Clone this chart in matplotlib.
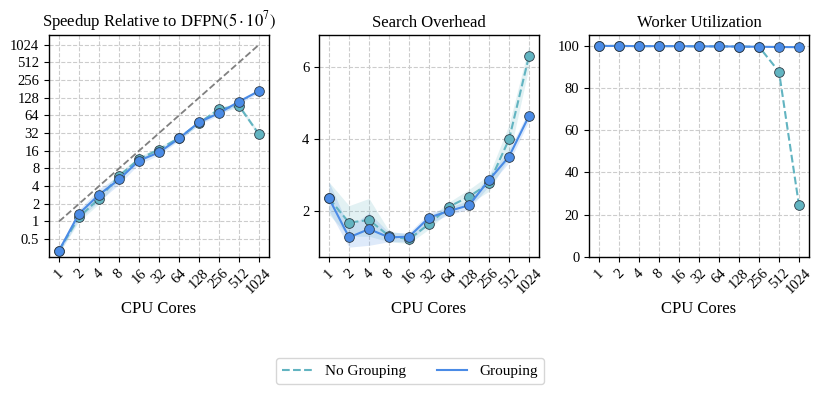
import matplotlib
matplotlib.use("Agg")
import matplotlib.pyplot as plt
from matplotlib.lines import Line2D
import numpy as np

plt.rcParams.update({
    "font.family": "Liberation Serif",
    "mathtext.fontset": "stix",
    "font.size": 10,
    "axes.linewidth": 1.0,
})

TEAL = "#62b4c1"
BLUE = "#4a8be6"
EDGE = "#2f3b45"

cores = ["1", "2", "4", "8", "16", "32", "64", "128", "256", "512", "1024"]
ideal = [1, 2, 4, 8, 16, 32, 64, 128, 256, 512, 1024]

# speedup
speed_grp = [0.32, 1.36, 2.86, 5.2, 10.9, 15.0, 26.0, 49.0, 70.0, 110.0, 167.0]
speed_grp_lo = [0.29, 1.1, 2.2, 4.3, 9.6, 13.5, 24.0, 45.0, 64.0, 100.0, 155.0]
speed_grp_hi = [0.36, 1.6, 3.6, 6.0, 12.2, 16.5, 28.0, 53.0, 76.0, 120.0, 180.0]
speed_nog = [0.32, 1.19, 2.44, 5.95, 11.6, 16.8, 26.6, 47.5, 82.0, 93.0, 30.4]
speed_nog_lo = [0.29, 1.0, 2.0, 5.2, 10.5, 15.0, 24.5, 44.0, 74.0, 85.0, 28.0]
speed_nog_hi = [0.36, 1.45, 3.0, 6.8, 12.8, 18.5, 29.0, 51.0, 90.0, 102.0, 33.0]

# search overhead
ovh_grp = [2.35, 1.27, 1.5, 1.27, 1.29, 1.82, 2.0, 2.16, 2.86, 3.51, 4.64]
ovh_grp_lo = [2.0, 1.0, 1.05, 1.15, 1.15, 1.65, 1.9, 2.05, 2.7, 3.35, 4.5]
ovh_grp_hi = [2.8, 1.55, 1.95, 1.4, 1.4, 1.95, 2.1, 2.3, 3.0, 3.7, 4.8]
ovh_nog = [2.35, 1.68, 1.75, 1.31, 1.22, 1.64, 2.12, 2.40, 2.77, 3.99, 6.30]
ovh_nog_lo = [1.9, 1.3, 1.3, 1.15, 1.1, 1.5, 2.0, 2.2, 2.55, 3.5, 6.0]
ovh_nog_hi = [2.8, 2.15, 2.35, 1.45, 1.35, 1.8, 2.25, 2.6, 3.0, 4.4, 6.6]

# worker utilization
util_grp = [99.8, 99.8, 99.7, 99.7, 99.7, 99.6, 99.6, 99.5, 99.4, 99.3, 99.2]
util_nog = [99.8, 99.8, 99.7, 99.7, 99.7, 99.6, 99.6, 99.5, 99.4, 87.6, 24.3]

x = np.arange(len(cores))

fig = plt.figure(figsize=(8.21, 3.97), dpi=100)
axes = [fig.add_axes([l, 0.353, 0.268, 0.559]) for l in (0.0597, 0.3886, 0.7174)]


def draw(ax, nog, grp, nog_lo=None, nog_hi=None, grp_lo=None, grp_hi=None):
    if nog_lo is not None:
        ax.fill_between(x, nog_lo, nog_hi, color=TEAL, alpha=0.18, lw=0)
    if grp_lo is not None:
        ax.fill_between(x, grp_lo, grp_hi, color=BLUE, alpha=0.18, lw=0)
    ax.plot(x, nog, "--o", color=TEAL, lw=1.5, ms=7, mec=EDGE, mew=0.6,
            label="No Grouping", zorder=3)
    ax.plot(x, grp, "-o", color=BLUE, lw=1.5, ms=7, mec=EDGE, mew=0.6,
            label="Grouping", zorder=4)
    ax.set_xticks(x)
    ax.set_xticklabels(cores, rotation=45, fontsize=10.5)
    ax.set_xlabel("CPU Cores", fontsize=12, labelpad=3)
    ax.grid(True, ls="--", color="#cccccc", lw=0.8)
    ax.set_axisbelow(True)
    ax.tick_params(labelsize=10.5)
    ax.set_xlim(-0.5, len(cores) - 0.5)


ax = axes[0]
ax.plot(x, ideal, "--", color="gray", lw=1.3, zorder=2)
draw(ax, speed_nog, speed_grp, speed_nog_lo, speed_nog_hi, speed_grp_lo, speed_grp_hi)
ax.set_yscale("log", base=2)
yt = [0.5, 1, 2, 4, 8, 16, 32, 64, 128, 256, 512, 1024]
ax.set_yticks(yt)
ax.set_yticklabels(["0.5"] + [str(v) for v in yt[1:]])
ax.minorticks_off()
ax.set_ylim(0.25, 1500)
ax.set_title(r"Speedup Relative to DFPN$(5 \cdot 10^7)$", fontsize=12)

ax = axes[1]
draw(ax, ovh_nog, ovh_grp, ovh_nog_lo, ovh_nog_hi, ovh_grp_lo, ovh_grp_hi)
ax.set_yticks([2, 4, 6])
ax.set_ylim(0.73, 6.88)
ax.set_title("Search Overhead", fontsize=12)

ax = axes[2]
draw(ax, util_nog, util_grp)
ax.set_ylim(0, 105)
ax.set_yticks([0, 20, 40, 60, 80, 100])
ax.set_title("Worker Utilization", fontsize=12)

hl = [Line2D([], [], color=TEAL, ls="--", lw=1.5), Line2D([], [], color=BLUE, ls="-", lw=1.5)]
fig.legend(hl, ["No Grouping", "Grouping"], loc="center", bbox_to_anchor=(0.4995, 0.065),
           ncol=2, fontsize=11, frameon=True, edgecolor="#cccccc", columnspacing=2.0,
           handlelength=2.0)

fig.savefig("out.png", dpi=100)
